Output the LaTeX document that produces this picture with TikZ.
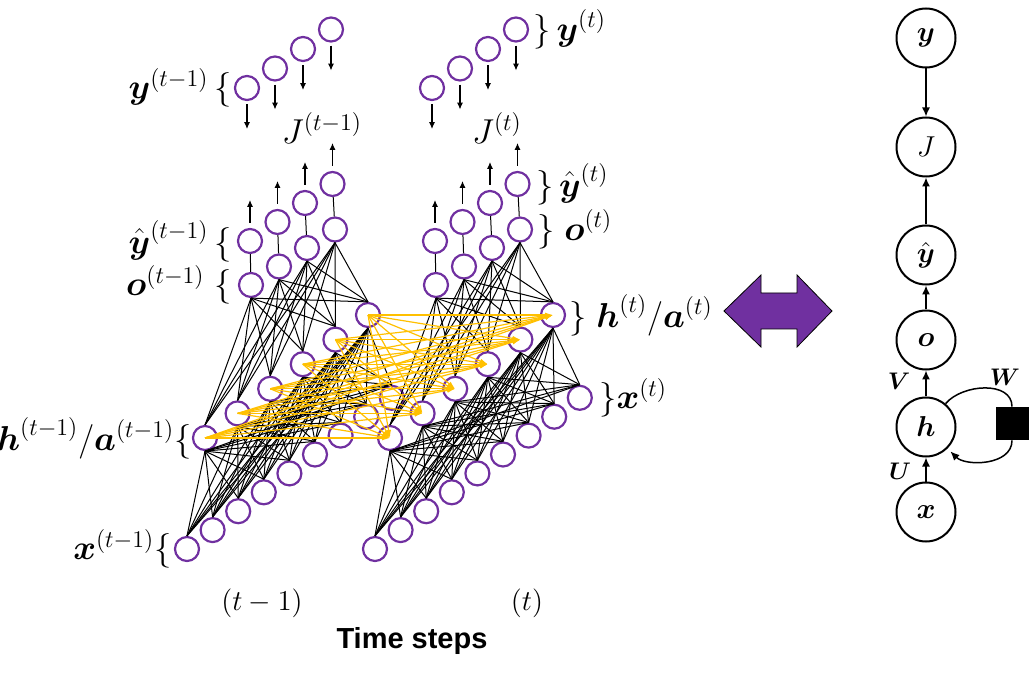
\documentclass[tikz,border=0pt]{standalone}
\usepackage{amsmath}
\usepackage{fontspec}
\newfontfamily\stepfont{Liberation Sans}
\usetikzlibrary{arrows.meta,positioning}
\definecolor{rnnpurple}{HTML}{7030A0}
\definecolor{rnnorange}{HTML}{FFC000}

\begin{document}
\begin{tikzpicture}[x=0.5pt,y=-0.5pt,
  neuron/.style={draw=rnnpurple,shape=circle,line width=1.1pt,minimum size=12pt,inner sep=0pt},
  syn/.style={black,line width=0.5pt},
  recur/.style={rnnorange,line width=0.6pt,-{Latex[length=4pt,width=2.5pt]}},
  flow/.style={line width=0.6pt,-{Latex[length=3.5pt,width=3pt]}},
  lbl/.style={font=\LARGE,inner sep=0pt},
  gnode/.style={draw,shape=circle,line width=1pt,minimum size=29.5pt,inner sep=0pt,font=\Large},
  gflow/.style={line width=0.75pt,-{Latex[length=4.5pt,width=4pt]}}]
\useasboundingbox (0,0) rectangle (1030,674);

% unrolled network, one block per time step
\foreach \s/\dx/\ex in {P/0/0,T/185/188}{
  \foreach \i in {1,...,4}{
    \node[neuron] (y\s\i) at ({247+\dx+28*(\i-1)},{88-19.5*(\i-1)}) {};
    \node[neuron] (yh\s\i) at ({250+\dx+27.5*(\i-1)},{241-19*(\i-1)}) {};
    \node[neuron] (o\s\i) at ({251+\dx+28*(\i-1)},{285-18.5*(\i-1)}) {};
    \coordinate (jd\s\i) at ([yshift=-14pt]y\s\i.south);
    \coordinate (ju\s\i) at ([yshift=14pt]yh\s\i.north);
  }
  \foreach \i in {1,...,6}
    \node[neuron] (h\s\i) at ({205+\dx+32.6*(\i-1)},{438-24.6*(\i-1)}) {};
  \foreach \i in {1,...,9}
    \node[neuron] (x\s\i) at ({187+\ex+25.6*(\i-1)},{549-18.9*(\i-1)}) {};
  \foreach \i in {1,...,9}
    \foreach \j in {1,...,6}
      \draw[syn] (x\s\i.north) -- (h\s\j.south);
  \foreach \i in {1,...,6}
    \foreach \j in {1,...,4}
      \draw[syn] (h\s\i.north) -- (o\s\j.south);
  \foreach \i in {1,...,4}{
    \draw[syn] (o\s\i) -- (yh\s\i);
    \draw[flow,shorten <=2.5pt] (yh\s\i) -- (ju\s\i);
    \draw[flow,shorten <=1.5pt] (y\s\i) -- (jd\s\i);
  }
}

% hidden to hidden
\foreach \i in {1,...,6}
  \foreach \j in {1,...,6}
    \draw[recur] (hP\i.center) -- (hT\j.center);

\node[lbl,left=1pt of yP1] {$\boldsymbol{y}^{(t-1)}\,\{$};
\node[lbl,left=2.5pt of yhP1] {$\hat{\boldsymbol{y}}^{(t-1)}\,\{$};
\node[lbl,left=3pt of oP1] {$\boldsymbol{o}^{(t-1)}\;\{$};
\node[lbl,left=0pt of hP1] {$\boldsymbol{h}^{(t-1)}/\boldsymbol{a}^{(t-1)}\{$};
\node[lbl,left=1pt of xP1] {$\boldsymbol{x}^{(t-1)}\{$};
\node[lbl] (JP) at (322,128) {$J^{(t-1)}$};
\node[lbl,right=2pt of yT4] {$\}\,\boldsymbol{y}^{(t)}$};
\node[lbl,right=2.5pt of yhT4] {$\}\,\hat{\boldsymbol{y}}^{(t)}$};
\node[lbl,right=2pt of oT4] {$\}\;\boldsymbol{o}^{(t)}$};
\node[lbl,right=1.5pt of hT6] {$\}\;\boldsymbol{h}^{(t)}/\boldsymbol{a}^{(t)}$};
\node[lbl,right=3pt of xT9] {$\}\boldsymbol{x}^{(t)}$};
\node[lbl] (JT) at (497,128) {$J^{(t)}$};
\node[font=\Large] (stepP) at (262,603) {$(t-1)$};
\node[font=\Large] (stepT) at (527,603) {$(t)$};
\node[font=\stepfont\bfseries\fontsize{14.5}{17}\selectfont] (tsteps) at (412,641) {Time steps};

% equivalence
\filldraw[fill=rnnpurple,draw=black,line width=0.4pt] (724,311) -- (761,275) -- (761,293) -- (797,293) -- (797,275) -- (832,311) -- (797,347) -- (797,329) -- (761,329) -- (761,347) -- cycle;

% folded graph
\node[gnode] (RY) at (926,38) {$\boldsymbol{y}$};
\node[gnode] (RJ) at (926,147) {$J$};
\node[gnode] (RYH) at (926,255) {$\hat{\boldsymbol{y}}$};
\node[gnode] (RO) at (926,340) {$\boldsymbol{o}$};
\node[gnode] (RH) at (926,427) {$\boldsymbol{h}$};
\node[gnode] (RX) at (926,512) {$\boldsymbol{x}$};
\node[fill=black,minimum size=16.5pt,inner sep=0pt] (RW) at (1012,423.5) {};

\draw[gflow] (RY) -- (RJ);
\draw[gflow] (RYH) -- (RJ);
\draw[gflow] (RO) -- (RYH);
\draw[gflow] (RH) -- (RO);
\draw[gflow] (RX) -- (RH);
\draw[line width=0.75pt] (RH.50) to[out=50,in=90] (RW.north);
\draw[gflow,shorten >=2pt] (RW.south) to[out=-90,in=-45] (RH.-45);

\node[font=\large] at (899,381) {$\boldsymbol{V}$};
\node[font=\large] at (1005,377) {$\boldsymbol{W}$};
\node[font=\large] at (900,471) {$\boldsymbol{U}$};
\end{tikzpicture}
\end{document}
